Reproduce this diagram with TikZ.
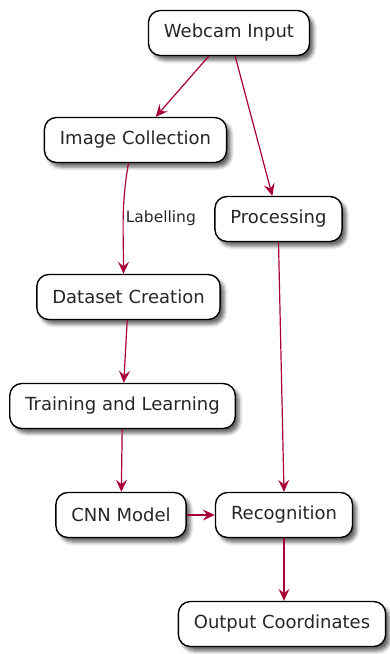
\documentclass[tikz,border=0pt]{standalone}
\usepackage{fontspec}
\setmainfont{DejaVu Sans}
\usetikzlibrary{arrows.meta}
\usetikzlibrary{shadows.blur}

\definecolor{flowred}{RGB}{168,0,54}

\begin{document}
\begin{tikzpicture}[x=1pt, y=-1pt,
  actbox/.style={draw=black, fill=white, line width=1.4pt, rounded corners=12pt, minimum height=45pt, inner xsep=15.5pt, text=black!85, font=\fontsize{18}{21}\selectfont, blur shadow={shadow xshift=4pt, shadow yshift=-4.5pt, shadow blur radius=3.5pt, shadow opacity=60}},
  flow/.style={draw=flowred, line width=1.2pt, -{Stealth[length=12pt, width=11pt, inset=4.5pt]}}]
  \useasboundingbox (0,0) rectangle (389,654);

  \node[actbox] (webcam) at (229,33) {Webcam Input};
  \node[actbox] (collect) at (135.5,140) {Image Collection};
  \node[actbox] (process) at (278.5,219) {Processing};
  \node[actbox] (dataset) at (128.5,297) {Dataset Creation};
  \node[actbox] (train) at (122.5,406) {Training and Learning};
  \node[actbox] (cnn) at (121,515) {CNN Model};
  \node[actbox] (recog) at (284,515) {Recognition};
  \node[actbox] (output) at (282,624) {Output Coordinates};

  \draw[flow] (webcam) -- (collect);
  \draw[flow] (webcam) -- (process);
  \draw[flow] ([xshift=-7pt]collect.south) to[out=-100, in=90] node[right, inner sep=2pt, text=black!85, font=\fontsize{15.5}{18}\selectfont] {Labelling} ([xshift=-5pt]dataset.north);
  \draw[flow] (dataset) -- (train);
  \draw[flow] (train) -- (cnn);
  \draw[flow] (cnn) -- (recog);
  \draw[flow] (process.south) -- (recog.north);
  \draw[flow] (recog) -- (output.north -| recog);
\end{tikzpicture}
\end{document}
